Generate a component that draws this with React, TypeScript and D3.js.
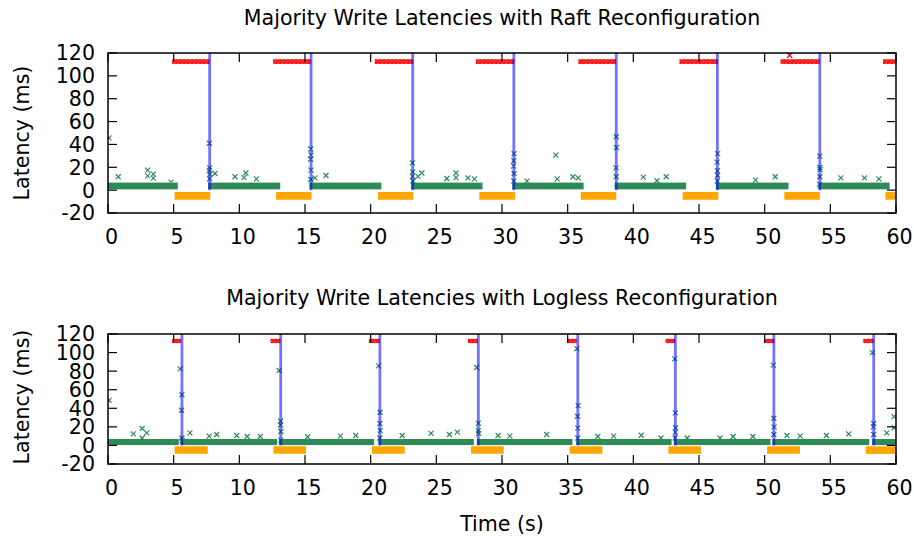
import React from "react";
import * as d3 from "d3";

// ---------- shared axes ----------
const xTicks = [0, 5, 10, 15, 20, 25, 30, 35, 40, 45, 50, 55, 60];
const yTicks = [-20, 0, 20, 40, 60, 80, 100, 120];

// ---------- Raft panel ----------
const raftGreenSegments: [number, number][] = [
  [0, 5.2], [7.74, 13.0], [15.46, 20.7], [23.2, 28.4], [30.9, 36.1],
  [38.7, 43.9], [46.4, 51.7], [54.2, 59.4],
];
const raftRedSegments: [number, number][] = [
  [4.97, 7.64], [12.66, 15.38], [20.4, 23.15], [28.1, 30.86], [35.9, 38.6],
  [43.6, 46.35], [51.3, 54.1], [59.1, 60],
];
const raftReconfigTimes = [7.74, 15.46, 23.2, 30.9, 38.7, 46.4, 54.2];
const raftPauseSegments: [number, number][] = [
  [5.07, 7.79], [12.8, 15.5], [20.56, 23.25], [28.27, 31.0], [36.0, 38.7],
  [43.76, 46.47], [51.5, 54.2], [59.2, 60],
];
const raftGreenOutliers: [number, number][] = [
  [0.08, 45.8], [0.78, 11.7], [3.02, 17.5], [3.02, 12.5], [3.45, 14], [3.45, 10.5], [4.8, 7],
  [7.72, 41], [7.74, 19.5], [7.72, 17], [7.76, 14], [7.74, 10],
  [8.15, 14.6], [9.67, 11.7], [10.5, 15], [10.35, 11], [11.3, 9.9],
  [15.44, 36], [15.46, 30.6], [15.42, 27], [15.46, 17.5], [15.44, 9.3],
  [15.76, 10.8], [16.6, 12.8],
  [23.18, 23.9], [23.2, 16], [23.18, 12], [23.22, 8],
  [23.9, 15], [23.6, 12], [25.8, 10.2], [26.5, 15], [26.5, 11], [27.4, 10.8], [27.9, 9.9],
  [30.92, 32], [30.9, 25.7], [30.88, 21], [30.92, 14.6], [30.9, 8],
  [31.9, 7.9], [34.1, 30.6], [34.2, 9.9], [35.4, 11.7], [35.8, 10.8],
  [38.7, 46.7], [38.72, 37.3], [38.68, 19.5], [38.7, 11.7],
  [40.76, 11.4], [41.8, 8.2], [42.5, 11.7],
  [46.42, 32], [46.38, 24.5], [46.4, 17], [46.42, 13], [46.4, 8],
  [49.3, 8.8], [50.8, 11.7],
  [54.2, 29.8], [54.2, 19.8], [54.22, 18], [54.2, 11.7], [54.18, 5],
  [55.8, 10.8], [57.6, 10.8], [58.7, 9.9],
];
const raftRedOutliers: [number, number][] = [[51.9, 118]];

// ---------- Logless panel ----------
const loglessGreenSegments: [number, number][] = [
  [0, 5.28], [5.63, 12.77], [13.15, 20.15], [20.7, 27.74], [28.2, 35.25],
  [35.77, 42.8], [43.2, 50.33], [50.7, 57.85], [58.3, 60],
];
const loglessRedSegments: [number, number][] = [
  [4.97, 5.48], [12.46, 13.04], [19.95, 20.6], [27.5, 28.07], [35.05, 35.6],
  [42.54, 43.1], [50.1, 50.66], [57.6, 58.2],
];
const loglessReconfigTimes = [5.63, 13.15, 20.7, 28.2, 35.77, 43.2, 50.7, 58.3];
const loglessPauseSegments: [number, number][] = [
  [5.07, 7.59], [12.6, 15.08], [20.1, 22.6], [27.64, 30.13], [35.15, 37.64],
  [42.67, 45.15], [50.18, 52.69], [57.7, 60],
];
const loglessGreenOutliers: [number, number][] = [
  [0.08, 48.6], [1.93, 12.5], [2.6, 18.2], [2.95, 13.6], [2.6, 8],
  [5.5, 82.5], [5.63, 54.6], [5.6, 37.9], [5.63, 8], [5.65, 5],
  [6.24, 13.6], [7.7, 10], [8.27, 11.8], [9.8, 10.7], [10.6, 9.6], [11.6, 9.6],
  [13.04, 80.7], [13.15, 26], [13.13, 22], [13.17, 15], [13.15, 5.7],
  [15.2, 9.3], [17.7, 10], [18.86, 10.7],
  [20.6, 85.7], [20.72, 35.7], [20.7, 23.6], [20.74, 16], [20.7, 8],
  [22.4, 10.7], [24.6, 12.9], [26.0, 11.8], [26.6, 14.3],
  [28.07, 83.9], [28.2, 24], [28.2, 16], [28.22, 13],
  [29.7, 10.7], [30.6, 10], [33.4, 11.8],
  [35.7, 104.3], [35.8, 42.8], [35.75, 31.4], [35.77, 18.6], [35.77, 8],
  [37.3, 9.6], [38.5, 10], [40.6, 11], [42.1, 8],
  [43.15, 93.2], [43.2, 35], [43.22, 19], [43.2, 14], [43.18, 8],
  [44.1, 8], [46.6, 8], [47.6, 9.6], [49.1, 9.6],
  [50.66, 86.4], [50.7, 29.3], [50.72, 20], [50.7, 11.8],
  [51.7, 10.7], [52.7, 10], [54.7, 10.7], [56.4, 12.5],
  [58.2, 100], [58.3, 23.6], [58.28, 20], [58.3, 11.8],
  [59.3, 13.6], [59.85, 31], [59.85, 19],
];
const loglessRedOutliers: [number, number][] = [];

// ---------- constants ----------
const W = 914;
const H = 538;
const FONT = "DejaVu Sans, sans-serif";
const FS = 20.6;
const GREEN = "#2e8b57";
const RED = "#ff0000";
const ORANGE = "#ffa500";
const BLUE = "#0000ff";

const xScale = d3.scaleLinear().domain([0, 60]).range([108, 896]);

function xMark(cx: number, cy: number, s = 2.5) {
  return `M${cx - s},${cy - s}L${cx + s},${cy + s}M${cx - s},${cy + s}L${cx + s},${cy - s}`;
}

type PanelProps = {
  id: string;
  title: string;
  titleY: number;
  top: number;
  bottom: number;
  labelY: number;
  green: [number, number][];
  red: [number, number][];
  reconfig: number[];
  pauses: [number, number][];
  greenOut: [number, number][];
  redOut: [number, number][];
};

function Panel(p: PanelProps) {
  const y = d3.scaleLinear().domain([-20, 120]).range([p.bottom, p.top]);
  const x = xScale;
  const [x0, x1] = x.range();
  const gPad = 1.5;
  const rPad = 1.2;
  const tick = 9;
  return (
    <g>
      <defs>
        <clipPath id={p.id}>
          <rect x={x0} y={p.top} width={x1 - x0} height={p.bottom - p.top} />
        </clipPath>
      </defs>
      <text x={(x0 + x1) / 2} y={p.titleY} textAnchor="middle" fontFamily={FONT} fontSize={FS}>
        {p.title}
      </text>
      <g clipPath={`url(#${p.id})`}>
        {p.green.map(([a, b], i) => (
          <rect key={"g" + i} x={x(a) - gPad} y={y(5.3) - gPad} width={x(b) - x(a) + 2 * gPad}
            height={y(2) - y(5.3) + 2 * gPad} fill={GREEN} />
        ))}
        <path d={p.greenOut.map(([t, v]) => xMark(x(t), y(v))).join("")} stroke={GREEN}
          strokeWidth={1.2} fill="none" />
        {p.red.map(([a, b], i) => (
          <rect key={"r" + i} x={x(a) - rPad} y={y(113.5) - rPad} width={x(b) - x(a) + 2 * rPad}
            height={y(111.5) - y(113.5) + 2 * rPad} fill="url(#redTex)" />
        ))}
        <path d={p.redOut.map(([t, v]) => xMark(x(t), y(v))).join("")} stroke={RED}
          strokeWidth={1.2} fill="none" />
        {p.pauses.map(([a, b], i) => (
          <line key={"o" + i} x1={x(a)} x2={x(b)} y1={y(-5)} y2={y(-5)} stroke={ORANGE} strokeWidth={7.6} />
        ))}
        {p.reconfig.map((t, i) => (
          <line key={"b" + i} x1={x(t)} x2={x(t)} y1={y(0)} y2={y(125)} stroke={BLUE}
            strokeOpacity={0.55} strokeWidth={2.8} />
        ))}
      </g>
      {xTicks.map((t) => (
        <g key={"xt" + t}>
          <line x1={x(t)} x2={x(t)} y1={p.bottom} y2={p.bottom - tick} stroke="#000" strokeWidth={1.2} />
          <line x1={x(t)} x2={x(t)} y1={p.top} y2={p.top + tick} stroke="#000" strokeWidth={1.2} />
          <text x={x(t) + 3.5} y={p.bottom + 31} textAnchor="middle" fontFamily={FONT} fontSize={FS}>{t}</text>
        </g>
      ))}
      {yTicks.map((v) => (
        <g key={"yt" + v}>
          <line x1={x0} x2={x0 + tick} y1={y(v)} y2={y(v)} stroke="#000" strokeWidth={1.2} />
          <line x1={x1} x2={x1 - tick} y1={y(v)} y2={y(v)} stroke="#000" strokeWidth={1.2} />
          <text x={95} y={y(v)} dy="0.36em" textAnchor="end" fontFamily={FONT} fontSize={FS}>{v}</text>
        </g>
      ))}
      <rect x={x0} y={p.top} width={x1 - x0} height={p.bottom - p.top} fill="none" stroke="#000" strokeWidth={1.5} />
      <text transform={`translate(22,${p.labelY}) rotate(-90)`} textAnchor="middle" dy="0.36em"
        fontFamily={FONT} fontSize={FS}>Latency (ms)</text>
    </g>
  );
}

export default function App() {
  return (
    <svg width={W} height={H} viewBox={`0 0 ${W} ${H}`}
      style={{ position: "absolute", left: 0, top: 0, background: "#fff" }}>
      <defs>
        <pattern id="redTex" patternUnits="userSpaceOnUse" width={4} height={3.5}>
          <rect width={4} height={3.5} fill="#ff5a5a" />
          <path d="M0,0L4,3.5M0,3.5L4,0" stroke={RED} strokeWidth={1.2} />
        </pattern>
      </defs>
      <rect width={W} height={H} fill="#fff" />
      <Panel id="clipA" title="Majority Write Latencies with Raft Reconfiguration" titleY={25}
        top={53} bottom={213} labelY={133}
        green={raftGreenSegments} red={raftRedSegments} reconfig={raftReconfigTimes}
        pauses={raftPauseSegments} greenOut={raftGreenOutliers} redOut={raftRedOutliers} />
      <Panel id="clipB" title="Majority Write Latencies with Logless Reconfiguration" titleY={305}
        top={334} bottom={464} labelY={397}
        green={loglessGreenSegments} red={loglessRedSegments} reconfig={loglessReconfigTimes}
        pauses={loglessPauseSegments} greenOut={loglessGreenOutliers} redOut={loglessRedOutliers} />
      <text x={502} y={531} textAnchor="middle" fontFamily={FONT} fontSize={FS}>Time (s)</text>
    </svg>
  );
}
